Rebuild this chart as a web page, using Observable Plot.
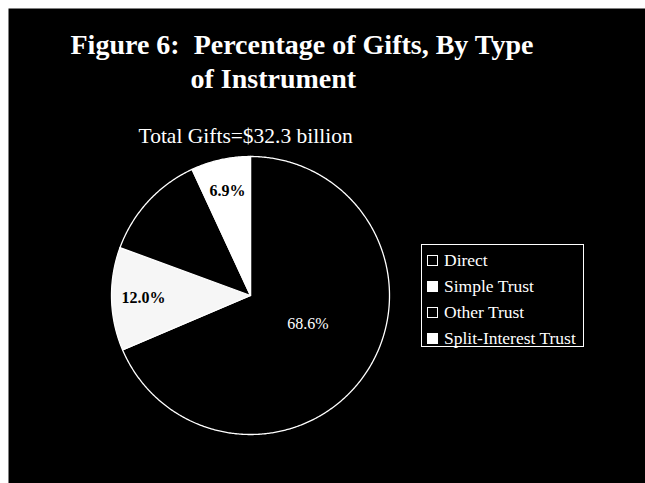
<!DOCTYPE html>
<html>
<head>
<meta charset="utf-8">
<script src="https://cdn.jsdelivr.net/npm/d3@7"></script>
<script src="https://cdn.jsdelivr.net/npm/@observablehq/plot@0.6"></script>
<style>
  html, body { margin: 0; padding: 0; background: #fff; }
  #wrap { position: relative; width: 645px; height: 483px; overflow: hidden; }
  #wrap svg { position: absolute; left: 0; top: 0; }
  #legend {
    position: absolute; left: 421px; top: 244px; width: 161px; height: 101px;
    border: 1px solid #fff; box-sizing: content-box;
    font-family: "Liberation Serif", "DejaVu Serif", serif; font-size: 17.5px; color: #fff;
  }
  .item { position: absolute; left: 5px; height: 26px; display: flex; align-items: center; white-space: nowrap; }
  .sw { width: 9px; height: 9px; border: 1px solid #fff; margin-right: 6px; flex: none; }
</style>
</head>
<body>
<div id="wrap"></div>
<script>
// ---- data ----
const categories = ["Direct", "Simple Trust", "Other Trust", "Split-Interest Trust"];
const percents = [68.6, 12.0, 12.5, 6.9];
const sliceLabels = ["68.6%", "12.0%", "", "6.9%"];
const titleLines = ["Figure 6:  Percentage of Gifts, By Type", "of Instrument"];
const subtitle = ["Total Gifts=$32.3 billion"];

// ---- styling config ----
const sliceColors = ["#000000", "#f6f6f6", "#000000", "#ffffff"];

const rows = categories.map((name, i) => ({name, value: percents[i], label: sliceLabels[i], i}));
const arcs = d3.pie().sort(null).value(d => d.value)(rows);

// slice polygons in unit-circle coordinates (angle 0 = 12 o'clock, clockwise)
const pts = [];
for (const a of arcs) {
  pts.push({name: a.data.name, x: 0, y: 0});
  const n = Math.max(2, Math.ceil((a.endAngle - a.startAngle) / (Math.PI / 360)));
  for (let k = 0; k <= n; k++) {
    const t = a.startAngle + (a.endAngle - a.startAngle) * k / n;
    pts.push({name: a.data.name, x: Math.sin(t), y: Math.cos(t)});
  }
}
const labelRows = arcs.filter(a => a.data.label).map(a => {
  const m = (a.startAngle + a.endAngle) / 2;
  const big = a.data.value > 50;
  const r = big ? 0.46 : 0.77;
  return {text: a.data.label, x: r * Math.sin(m), y: r * Math.cos(m), big};
});

// pixel geometry: centre (250,295), radius 139 px
const W = 645, H = 483, mL = 8, mT = 8, cx = 250, cy = 295, R = 139;
const xDom = [(mL - cx) / R, (W - cx) / R];
const yDom = [(cy - H) / R, (cy - mT) / R];

const serif = "Liberation Serif, DejaVu Serif, serif";
const chart = Plot.plot({
  width: W, height: H,
  marginLeft: mL, marginTop: mT, marginRight: 0, marginBottom: 0,
  style: {background: "#fff", whiteSpace: "pre"},
  x: {domain: xDom, axis: null},
  y: {domain: yDom, axis: null},
  color: {domain: categories, range: sliceColors},
  marks: [
    Plot.frame({fill: "#000", stroke: "none"}),
    Plot.line(pts, {x: "x", y: "y", z: "name", fill: "name", stroke: "#fff", strokeWidth: 1.3, curve: "linear-closed"}),
    Plot.text(labelRows, {filter: d => d.big, x: "x", y: "y", text: "text", fill: "#fff",
      fontSize: 16, fontFamily: serif, lineAnchor: "middle", textAnchor: "middle", dx: 4, dy: -7}),
    Plot.text(labelRows, {filter: d => !d.big, x: "x", y: "y", text: "text", fill: "#000", fontWeight: "bold",
      fontSize: 16, fontFamily: serif, lineAnchor: "middle", textAnchor: "middle"}),
    Plot.text([titleLines[0]], {text: d => d, frameAnchor: "top-left", dx: 62, dy: 45, textAnchor: "start", lineAnchor: "bottom",
      fill: "#fff", fontSize: 28, fontWeight: "bold", fontFamily: serif}),
    Plot.text([titleLines[1]], {text: d => d, frameAnchor: "top-left", dx: 182, dy: 79, textAnchor: "start", lineAnchor: "bottom",
      fill: "#fff", fontSize: 28, fontWeight: "bold", fontFamily: serif}),
    Plot.text(subtitle, {text: d => d, frameAnchor: "top-left", dx: 130, dy: 134, textAnchor: "start", lineAnchor: "bottom",
      fill: "#fff", fontSize: 21.5, fontFamily: serif})
  ]
});
const wrap = document.getElementById("wrap");
wrap.appendChild(chart);

// legend
const legendFilled = [false, true, false, true];
const legend = document.createElement("div");
legend.id = "legend";
categories.forEach((c, i) => {
  const it = document.createElement("div");
  it.className = "item";
  it.style.top = (2 + i * 26) + "px";
  const sw = document.createElement("span");
  sw.className = "sw";
  sw.style.background = legendFilled[i] ? "#fff" : "#000";
  const tx = document.createElement("span");
  tx.textContent = c;
  it.appendChild(sw); it.appendChild(tx);
  legend.appendChild(it);
});
wrap.appendChild(legend);
</script>
</body>
</html>
